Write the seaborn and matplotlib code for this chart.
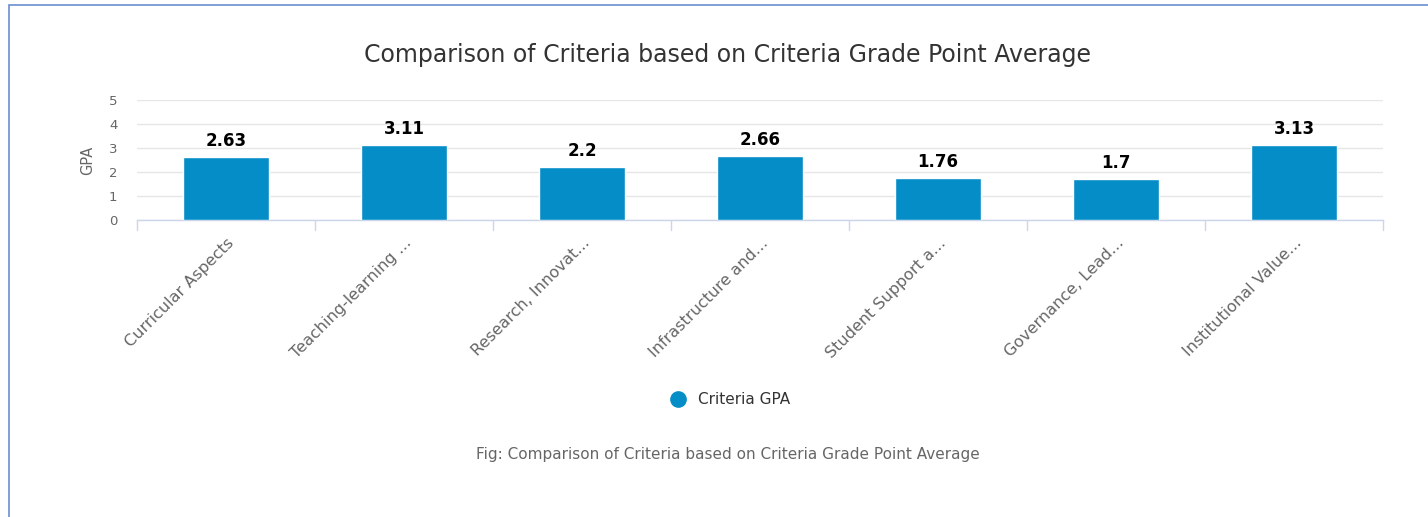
import matplotlib.pyplot as plt
import matplotlib.patches as mpatches
from matplotlib.lines import Line2D
import pandas as pd
import seaborn as sns

# Data
criteria = [
    "Curricular Aspects",
    "Teaching-learning ...",
    "Research, Innovat...",
    "Infrastructure and...",
    "Student Support a...",
    "Governance, Lead...",
    "Institutional Value...",
]
gpa = [2.63, 3.11, 2.2, 2.66, 1.76, 1.7, 3.13]
value_labels = ["2.63", "3.11", "2.2", "2.66", "1.76", "1.7", "3.13"]
y_ticks = [0, 1, 2, 3, 4, 5]

bar_color = "#058DC7"
df = pd.DataFrame({"criteria": criteria, "gpa": gpa})

sns.set_style("white")
plt.rcParams["font.family"] = ["DejaVu Sans"]

fig = plt.figure(figsize=(14.28, 5.17), dpi=100)
ax = fig.add_axes([137 / 1428, 1 - 220 / 517, (1383 - 137) / 1428, 120 / 517])

sns.barplot(data=df, x="criteria", y="gpa", color=bar_color, width=0.48,
            saturation=1, ax=ax, zorder=3)

# value labels
for i, (v, lab) in enumerate(zip(gpa, value_labels)):
    ax.annotate(lab, (i, v), xytext=(0, 5), textcoords="offset points",
                ha="center", va="bottom", fontsize=12, fontweight="bold",
                color="black")

ax.set_xlim(-0.5, len(criteria) - 0.5)
ax.set_ylim(0, 5)
ax.set_yticks(y_ticks)
ax.set_yticklabels([str(t) for t in y_ticks], fontsize=9.5, color="#666666")
ax.tick_params(axis="y", length=0, pad=14)
ax.grid(axis="y", color="#e6e6e6", linewidth=1, zorder=0)

# category ticks at boundaries
ax.set_xticks(range(len(criteria)))
ax.set_xticklabels(criteria, rotation=45, ha="right", rotation_mode="anchor",
                   fontsize=11.5, color="#666666")
ax.tick_params(axis="x", length=0, pad=11)
for b in range(len(criteria) + 1):
    ax.plot([b - 0.5, b - 0.5], [0, -0.4], color="#ccd6eb", lw=1,
            clip_on=False, zorder=1)

for s in ["top", "right", "left"]:
    ax.spines[s].set_visible(False)
ax.spines["bottom"].set_color("#ccd6eb")
ax.spines["bottom"].set_linewidth(1)

ax.set_xlabel("")
ax.set_ylabel("GPA", fontsize=10.5, color="#666666", labelpad=10)

fig.text(728 / 1428, 1 - 55 / 517, "Comparison of Criteria based on Criteria Grade Point Average",
         ha="center", va="center", fontsize=17, color="#333333")

# legend
handle = Line2D([], [], marker="o", linestyle="", markersize=11,
                markerfacecolor=bar_color, markeredgecolor=bar_color)
fig.legend([handle], ["Criteria GPA"], loc="center",
           bbox_to_anchor=(726 / 1428, 1 - 400 / 517), frameon=False,
           fontsize=11, handletextpad=0.3, labelcolor="#333333")

fig.text(728 / 1428, 1 - 454 / 517,
         "Fig: Comparison of Criteria based on Criteria Grade Point Average",
         ha="center", va="center", fontsize=11, color="#666666")

# border
fig.patches.append(mpatches.Rectangle((9 / 1428, -0.01), 1.1, 1 - 5 / 517 + 0.01,
                                      transform=fig.transFigure, fill=False,
                                      edgecolor="#6b8fd0", linewidth=1.2))

fig.savefig("out.png", dpi=100)
